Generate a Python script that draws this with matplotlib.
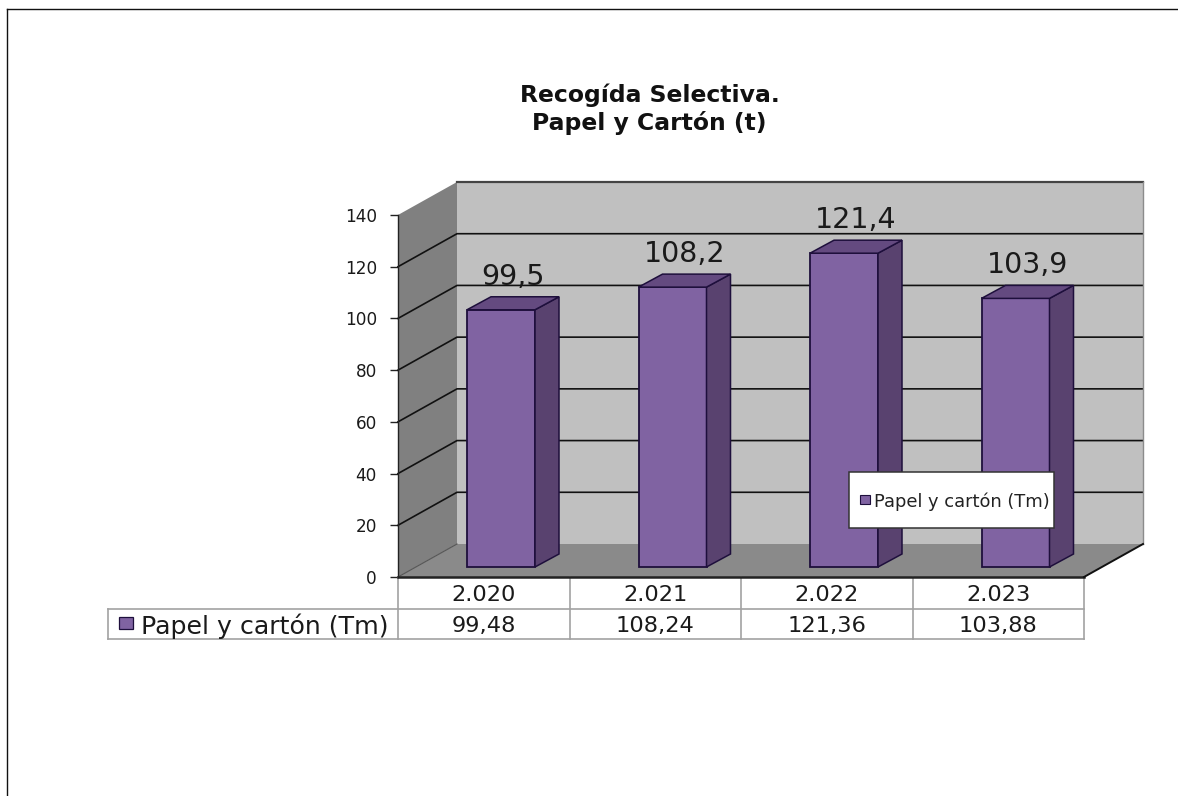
import matplotlib
matplotlib.use("Agg")
import matplotlib.pyplot as plt
from matplotlib.lines import Line2D
from matplotlib.patches import Polygon, Rectangle

# Data
years = ["2.020", "2.021", "2.022", "2.023"]
tonnes = [99.48, 108.24, 121.36, 103.88]
table_values = ["99,48", "108,24", "121,36", "103,88"]
bar_labels = ["99,5", "108,2", "121,4", "103,9"]
y_ticks = [0, 20, 40, 60, 80, 100, 120, 140]
series_name = "Papel y cartón (Tm)"
title = "Recogída Selectiva.\nPapel y Cartón (t)"

W, H = 1178, 796
X0, X1, Y0, Y140 = 398, 1084, 577, 215  # front plane of the 3D box, pixels

# Pseudo-3D geometry, in data units
PX = 4 / (X1 - X0)          # category units per pixel
PY = 140 / (Y0 - Y140)      # value units per pixel
DX, DY = 59 * PX, 33 * PY   # depth of the box
BAR_X, BAR_W = 69 * PX, 68 * PX
BAR_DX, BAR_DY = 24 * PX, 13 * PY
BAR_LIFT = 10 * PY

WALL = "#c0c0c0"
SIDE = "#808080"
FLOOR = "#8a8a8a"
FRONT = "#8063a2"
BAR_SIDE = "#59426f"
BAR_TOP = "#644a80"
EDGE = "#1e0f3c"
TABLE = "#a2a2a2"
TEXT = "#1a1a1a"

plt.rcParams["font.family"] = ["DejaVu Sans"]

fig = plt.figure(figsize=(W / 100, H / 100), dpi=100, facecolor="white")
ax = fig.add_axes([X0 / W, 1 - Y0 / H, (X1 - X0) / W, (Y0 - Y140) / H])
ax.set_xlim(0, 4)
ax.set_ylim(0, 140)
ax.patch.set_visible(False)
for name in ("top", "right", "bottom"):
    ax.spines[name].set_visible(False)
ax.spines["left"].set_color("#222222")
ax.spines["left"].set_linewidth(1.0)
ax.set_xticks([])
ax.set_yticks(y_ticks)
ax.tick_params(axis="y", length=5.8, width=1.0, color="#222222", pad=9.4,
               labelsize=12.2, labelcolor=TEXT)


def poly(points, fc, ec="none", lw=0.0, z=1):
    ax.add_patch(Polygon(points, closed=True, facecolor=fc, edgecolor=ec,
                         linewidth=lw, zorder=z, clip_on=False, joinstyle="miter"))


def line(xs, ys, color="#111111", lw=1.2, z=2):
    ax.add_line(Line2D(xs, ys, color=color, linewidth=lw, zorder=z, clip_on=False))


# Walls and floor
poly([(DX, DY), (4 + DX, DY), (4 + DX, 140 + DY), (DX, 140 + DY)], WALL)
poly([(0, 0), (DX, DY), (DX, 140 + DY), (0, 140)], SIDE)
poly([(0, 0), (4, 0), (4 + DX, DY), (DX, DY)], FLOOR)

for v in y_ticks[1:-1]:
    line([0, DX, 4 + DX], [v, v + DY, v + DY])
line([DX, 4 + DX], [140 + DY, 140 + DY], color="#444444", lw=1.6)
line([4 + DX, 4 + DX], [DY, 140 + DY], color="#8c8c8c", lw=1.0)
line([0, 4], [0, 0], color="#222222", lw=1.8, z=3)
line([4, 4 + DX], [0, DY], color="#111111", lw=1.4, z=3)
line([0, DX], [0, DY], color="#555555", lw=0.8)

# Bars
for i, (v, lab) in enumerate(zip(tonnes, bar_labels)):
    x0 = i + BAR_X
    x1 = x0 + BAR_W
    b = BAR_LIFT
    t = BAR_LIFT + v
    z = 4 + i
    poly([(x0, b), (x1, b), (x1, t), (x0, t)], FRONT, EDGE, 1.3, z)
    poly([(x1, b), (x1 + BAR_DX, b + BAR_DY), (x1 + BAR_DX, t + BAR_DY), (x1, t)],
         BAR_SIDE, EDGE, 1.1, z)
    poly([(x0, t), (x1, t), (x1 + BAR_DX, t + BAR_DY), (x0 + BAR_DX, t + BAR_DY)],
         BAR_TOP, EDGE, 1.1, z)
    ax.text((x0 + x1 + BAR_DX) / 2, t + BAR_DY + 12 * PY, lab, ha="center",
            va="baseline", fontsize=20.5, color=TEXT, zorder=12)

# Data table below the plot
row1 = -32 * PY
row2 = -62 * PY
left = (108 - X0) * PX
line([left, 4], [row1, row1], color=TABLE, z=3)
line([left, 4], [row2, row2], color=TABLE, z=3)
line([left, left], [row1, row2], color=TABLE, z=3)
for k in range(5):
    line([k, k], [0, row2], color=TABLE, z=2)
for i, (yr, val) in enumerate(zip(years, table_values)):
    ax.text(i + 0.5, row1 / 2, yr, ha="center", va="center_baseline", fontsize=16.2, color=TEXT)
    ax.text(i + 0.5, (row1 + row2) / 2, val, ha="center", va="center_baseline", fontsize=16.2, color=TEXT)
ax.add_patch(Rectangle(((119 - X0) * PX, -52 * PY), 14 * PX, 12 * PY, facecolor=FRONT,
                       edgecolor=EDGE, linewidth=0.9, clip_on=False, zorder=3))
ax.text((141 - X0) * PX, (row1 + row2) / 2, series_name, ha="left", va="center_baseline",
        fontsize=18.2, color=TEXT)

# Legend box over the bars
ax.add_patch(Rectangle(((849 - X0) * PX, (Y0 - 528) * PY), 205 * PX, 56 * PY, facecolor="white",
                       edgecolor="#333333", linewidth=1.1, clip_on=False, zorder=13))
ax.add_patch(Rectangle(((860 - X0) * PX, (Y0 - 504) * PY), 10 * PX, 9 * PY, facecolor=FRONT,
                       edgecolor=EDGE, linewidth=0.8, clip_on=False, zorder=14))
ax.text((874 - X0) * PX, (Y0 - 500) * PY, series_name, ha="left", va="center_baseline",
        fontsize=12.9, color="#222222", zorder=14)

# Chart title
fig.text(649.5 / W, 1 - 109 / H, title, ha="center", va="center", fontsize=16.9,
         fontweight="bold", color="#111111", linespacing=1.2)

# Outer frame, open at right and bottom
fig.add_artist(Line2D([6.5 / W, 6.5 / W], [0, 1 - 8.5 / H], color="#111111", linewidth=1.0))
fig.add_artist(Line2D([6.5 / W, 1], [1 - 8.5 / H, 1 - 8.5 / H], color="#111111", linewidth=1.0))

fig.savefig("out.png", dpi=100, facecolor="white")
